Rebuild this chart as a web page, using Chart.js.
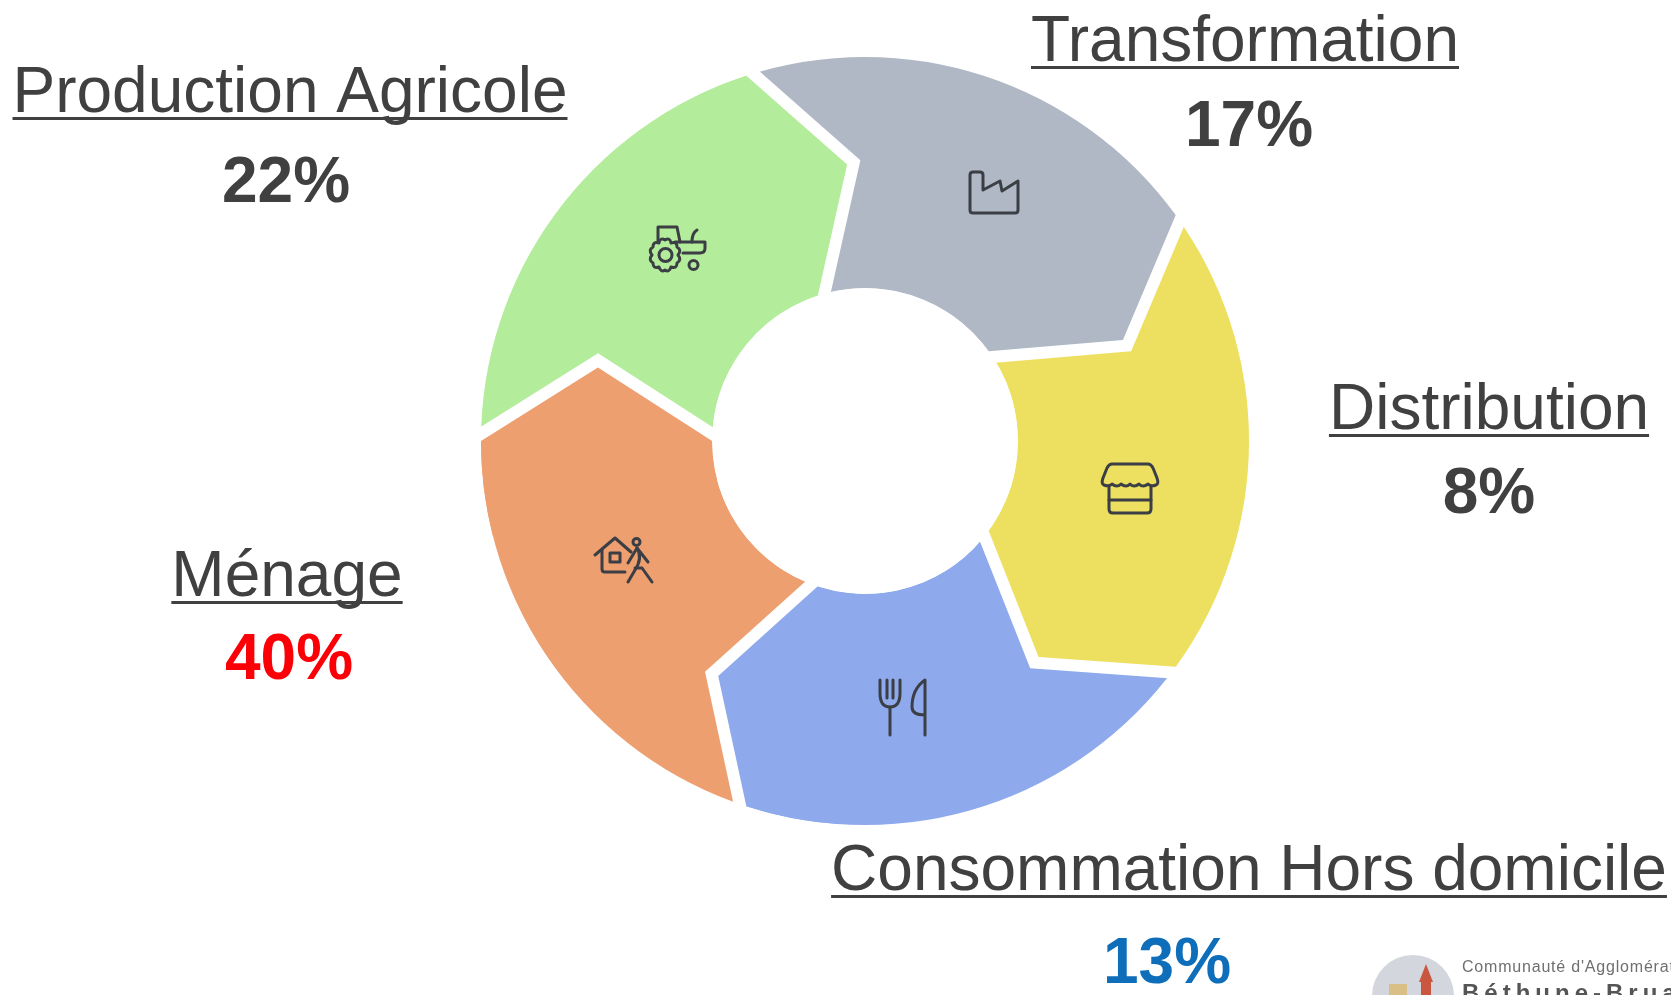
<!DOCTYPE html>
<html>
<head>
<meta charset="utf-8">
<title>Gaspillage alimentaire</title>
<script src="https://cdn.jsdelivr.net/npm/chart.js@4"></script>
<style>
  html, body { margin: 0; padding: 0; background: #fff; }
  canvas { display: block; }
</style>
</head>
<body>
<canvas id="cycle" width="1671" height="995"></canvas>
<script>
// stages clockwise, starting at the grey one
const stages = ['Transformation', 'Distribution', 'Consommation Hors domicile', 'Ménage', 'Production Agricole'];
const percents = [17, 8, 13, 40, 22];
// all five pieces of the wheel are the same size in the picture, whatever the percent
const sliceSizes = [1, 1, 1, 1, 1];
const sliceColors = ['#b0b8c6', '#ede061', '#8eaaec', '#ed9f70', '#b3ec9a'];
const percentColors = ['#404040', '#404040', '#0f6eb9', '#fb0006', '#404040'];

// label placement: [center x, title baseline, percent center x, percent baseline]
const labelPos = [
  [1245, 61, 1249, 146],
  [1489, 429, 1489, 513],
  [1249, 890, 1167, 983],
  [287, 596, 289, 679],
  [290, 112, 286, 202]
];

const TEXT = '#404040';
// how far each arrow point reaches past the end of its slice
const tipDeg = [14.6, 15.2, 14, 15.4, 14.3];
const TIP_RADIUS = 277;
const GAP = 12;

// icons, drawn around their own center
const icons = [
  { x: 994, y: 192, paths: ['M-24 -17Q-24 -20 -21 -20H-14Q-11 -20 -11 -17V-2L6 -11L8 -1L24 -11V18Q24 21 21 21H-21Q-24 21 -24 18Z'] },
  { x: 1130, y: 489, paths: [
    'M-18 -25H18Q21 -25 23 -21L27 -11Q29 -5 26 -4Q21 -2 18 -5Q13 -1 9 -5Q4 -1 0 -5Q-4 -1 -9 -5Q-13 -1 -18 -5Q-21 -2 -26 -4Q-29 -5 -27 -11L-23 -21Q-21 -25 -18 -25Z',
    'M-21 -2V20Q-21 24 -17 24H17Q21 24 21 20V-2',
    'M-21 11H21'
  ] },
  { x: 903, y: 707, paths: [
    'M-23 -27V-14Q-23 0 -13 0Q-3 0 -3 -14V-27',
    'M-16 -27V-9',
    'M-10 -27V-9',
    'M-13 0V28',
    'M22 28V-27Q9 -18 9 0Q9 8 22 8'
  ] },
  { x: 623, y: 560, paths: [
    'M-28 -5L-8 -22L8 -8',
    'M-21 -10V9Q-21 12 -18 12H2',
    'M-13 -7H-3V2H-13Z',
    'M5 3L14 -12L25 2',
    'M14 -12Q20 -2 12 10L5 22',
    'M12 8L19 8L29 22',
    'M10 -18a3.5 3.5 0 1 0 7 0a3.5 3.5 0 1 0 -7 0'
  ] },
  { x: 678, y: 248, paths: [
    'M-20 -6V-21H-1L2 -6',
    'M-3 -6H27V0Q27 5 22 5H5',
    'M14 -6Q14 -15 19 -18',
    'M11 17a4.5 4.5 0 1 0 9 0a4.5 4.5 0 1 0 -9 0',
    // gear of the big wheel
    'M-19 7a6.5 6.5 0 1 0 13 0a6.5 6.5 0 1 0 -13 0',
    'M-13 -8Q-8 -11 -7 -5Q-1 -7 -1 -1Q4 2 0 7Q4 12 -1 15Q-1 21 -7 19Q-9 25 -13 22Q-17 25 -19 19Q-25 21 -25 15Q-30 12 -26 7Q-30 2 -25 -1Q-25 -7 -19 -5Q-18 -11 -13 -8Z'
  ] }
];

function polar(arc, deg, r) {
  // chart.js angles are radians from 3 o'clock
  const a = arc.endAngle + deg * Math.PI / 180;
  return [arc.x + Math.cos(a) * r, arc.y + Math.sin(a) * r];
}

// turns each plain arc into an arrow: a point pushed into the next slice, with a white edge
const arrowTips = {
  id: 'arrowTips',
  afterDatasetsDraw(chart) {
    const ctx = chart.ctx;
    const arcs = chart.getDatasetMeta(0).data;
    arcs.forEach(function(arc, i) {
      const o = polar(arc, 0, arc.outerRadius);
      const t = polar(arc, tipDeg[i], TIP_RADIUS);
      const n = polar(arc, 0, arc.innerRadius);

      ctx.save();
      ctx.strokeStyle = '#fff';
      ctx.lineWidth = GAP * 2;
      ctx.lineJoin = 'miter';
      ctx.beginPath();
      ctx.moveTo(o[0], o[1]);
      ctx.lineTo(t[0], t[1]);
      ctx.lineTo(n[0], n[1]);
      ctx.stroke();

      const back = -0.25;
      ctx.fillStyle = sliceColors[i];
      ctx.beginPath();
      ctx.arc(arc.x, arc.y, arc.outerRadius, arc.endAngle + back, arc.endAngle);
      ctx.lineTo(t[0], t[1]);
      ctx.lineTo(n[0], n[1]);
      ctx.arc(arc.x, arc.y, arc.innerRadius, arc.endAngle, arc.endAngle + back, true);
      ctx.closePath();
      ctx.fill();
      ctx.restore();
    });
    // white stroke can spill in the hole, tidy that
    const first = arcs[0];
    ctx.save();
    ctx.fillStyle = '#fff';
    ctx.beginPath();
    ctx.arc(first.x, first.y, first.innerRadius, 0, Math.PI * 2);
    ctx.fill();
    ctx.restore();
  }
};

function drawIcons(ctx) {
  ctx.save();
  ctx.strokeStyle = '#3b3f45';
  ctx.lineWidth = 3;
  ctx.lineCap = 'round';
  ctx.lineJoin = 'round';
  icons.forEach(function(icon) {
    ctx.save();
    ctx.translate(icon.x, icon.y);
    icon.paths.forEach(function(p) { ctx.stroke(new Path2D(p)); });
    ctx.restore();
  });
  ctx.restore();
}

function drawLogo(ctx) {
  ctx.save();
  ctx.fillStyle = '#d3d7dd';
  ctx.beginPath();
  ctx.arc(1413, 996, 41, 0, Math.PI * 2);
  ctx.fill();
  ctx.fillStyle = '#d9bf86';
  ctx.fillRect(1389, 984, 18, 11);
  ctx.fillStyle = '#c9573f';
  ctx.fillRect(1421, 979, 10, 16);
  ctx.beginPath();
  ctx.moveTo(1426, 964);
  ctx.lineTo(1433, 982);
  ctx.lineTo(1419, 982);
  ctx.closePath();
  ctx.fill();
  ctx.fillStyle = '#6f6f6f';
  ctx.font = '16px "Liberation Sans"';
  ctx.textAlign = 'left';
  ctx.textBaseline = 'alphabetic';
  ctx.letterSpacing = '0.8px';
  ctx.fillText("Communauté d'Agglomération", 1462, 972);
  ctx.fillStyle = '#555';
  ctx.font = 'bold 24px "Liberation Sans"';
  ctx.letterSpacing = '5px';
  ctx.fillText('Béthune-Bruay', 1462, 1001);
  ctx.restore();
}

const labelsPlugin = {
  id: 'stageLabels',
  afterDraw(chart) {
    const ctx = chart.ctx;
    drawIcons(ctx);
    ctx.save();
    ctx.textBaseline = 'alphabetic';
    ctx.textAlign = 'center';
    stages.forEach(function(name, i) {
      const pos = labelPos[i];
      ctx.fillStyle = TEXT;
      ctx.font = '64px "Liberation Sans"';
      ctx.fillText(name, pos[0], pos[1]);
      const w = ctx.measureText(name).width;
      ctx.fillRect(pos[0] - w / 2, pos[1] + 5, w, 3);

      ctx.fillStyle = percentColors[i];
      ctx.font = 'bold 64px "Liberation Sans"';
      ctx.fillText(percents[i] + '%', pos[2], pos[3]);
    });
    ctx.restore();
    drawLogo(ctx);
  }
};

const chart = new Chart('cycle', {
  type: 'doughnut',
  data: {
    labels: stages,
    datasets: [{
      data: sliceSizes,
      backgroundColor: sliceColors,
      borderWidth: 0
    }]
  },
  options: {
    responsive: false,
    animation: false,
    rotation: -18,
    cutout: '39.8%',
    layout: { padding: { left: 481, right: 422, top: 57, bottom: 170 } },
    plugins: { legend: { display: false }, tooltip: { enabled: false } }
  },
  plugins: [arrowTips, labelsPlugin]
});
</script>
</body>
</html>
